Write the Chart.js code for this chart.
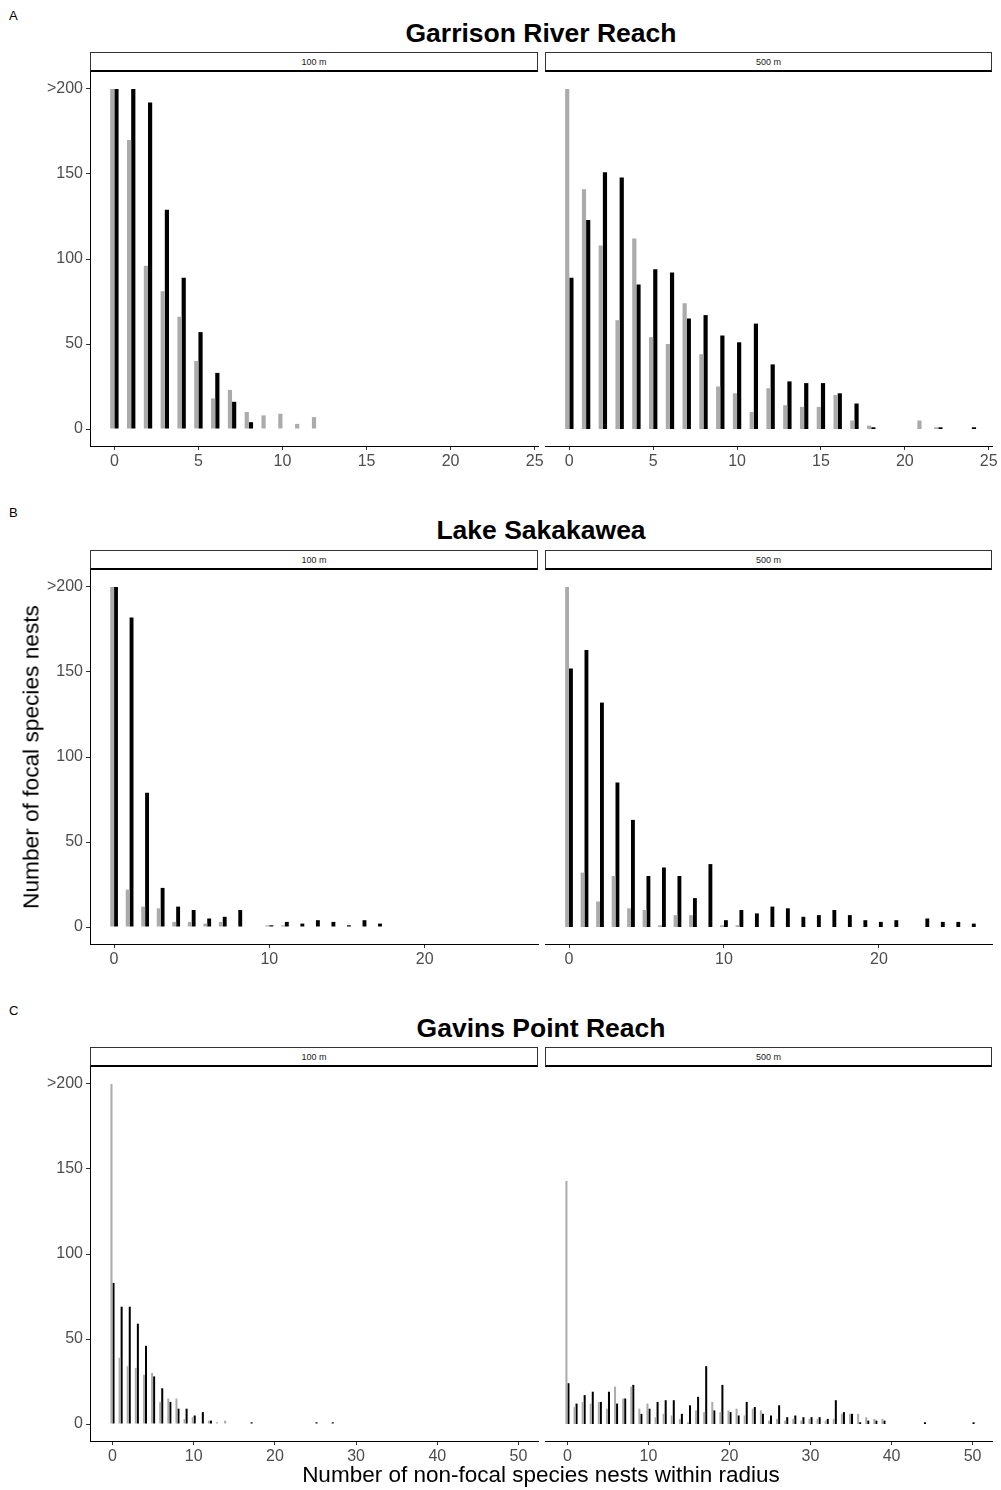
<!DOCTYPE html>
<html>
<head>
<meta charset="utf-8">
<script src="https://cdn.jsdelivr.net/npm/chart.js@4.4.0/dist/chart.umd.min.js"></script>
<style>
  body { margin: 0; background: #fff; width: 1001px; height: 1490px; position: relative; overflow: hidden;
         font-family: "Liberation Sans", Arial, sans-serif; }
  .abs { position: absolute; }
  .title { left: 90px; width: 902px; text-align: center; font-weight: bold; font-size: 26.5px; color: #000; line-height: 30px; }
  .letter { left: 9px; font-size: 13px; color: #000; line-height: 14px; }
  .strip { height: 20px; box-sizing: border-box; border: 1px solid #333; border-bottom: 2px solid #000;
           font-size: 9px; color: #1a1a1a; text-align: center; line-height: 19px; }
  canvas { position: absolute; }
</style>
</head>
<body>

<div class="abs letter" style="top:9px">A</div>
<div class="abs letter" style="top:506px">B</div>
<div class="abs letter" style="top:1004px">C</div>

<div class="abs title" style="top:18px">Garrison River Reach</div>
<div class="abs title" style="top:515px">Lake Sakakawea</div>
<div class="abs title" style="top:1013px">Gavins Point Reach</div>

<div class="abs strip" style="left:90px;width:448px;top:52px">100 m</div>
<div class="abs strip" style="left:545px;width:447px;top:52px">500 m</div>
<div class="abs strip" style="left:90px;width:448px;top:550px">100 m</div>
<div class="abs strip" style="left:545px;width:447px;top:550px">500 m</div>
<div class="abs strip" style="left:90px;width:448px;top:1047px">100 m</div>
<div class="abs strip" style="left:545px;width:447px;top:1047px">500 m</div>

<canvas id="a100"></canvas>
<canvas id="a500"></canvas>
<canvas id="b100"></canvas>
<canvas id="b500"></canvas>
<canvas id="c100"></canvas>
<canvas id="c500"></canvas>

<div class="abs" style="left:31px;top:757px;transform:translate(-50%,-50%) rotate(-90deg);white-space:nowrap;font-size:22.7px;color:#000">Number of focal species nests</div>
<div class="abs" style="left:90px;width:902px;top:1462px;text-align:center;font-size:22.5px;color:#000;line-height:26px">Number of non-focal species nests within radius</div>

<script>
// counts per number of non-focal nests (index = 0, 1, 2, ...), >200 shown as 200
const garrison100Grey  = [200, 170, 96, 81, 66, 40, 18, 23, 10, 8, 9, 3, 7];
const garrison100Black = [200, 200, 192, 129, 89, 57, 33, 16, 4, 0, 0, 0, 0];
const garrison500Grey  = [200, 141, 108, 64, 112, 54, 50, 74, 44, 25, 21, 10, 24, 14, 13, 13, 20, 5, 2, 0, 0, 5, 1, 0, 0];
const garrison500Black = [89, 123, 151, 148, 85, 94, 92, 65, 67, 55, 51, 62, 38, 28, 27, 27, 21, 15, 1, 0, 0, 0, 1, 0, 1];

const sakakawea100Grey  = [200, 22, 12, 11, 3, 3, 2, 3, 0, 0, 1, 1, 0, 0, 0, 0, 0, 0];
const sakakawea100Black = [200, 182, 79, 23, 12, 10, 5, 6, 10, 0, 1, 3, 2, 4, 3, 1, 4, 2];
const sakakawea500Grey  = [200, 32, 15, 30, 11, 10, 1, 7, 7, 0, 1, 1, 0, 0, 0, 0, 0, 0, 0, 0, 0, 0, 0, 0, 0, 0, 0];
const sakakawea500Black = [152, 163, 132, 85, 63, 30, 35, 30, 17, 37, 4, 10, 8, 12, 11, 6, 7, 10, 7, 4, 3, 4, 0, 5, 3, 3, 2];

const gavins100Grey  = [200, 39, 34, 33, 29, 30, 13, 15, 15, 3, 4, 0, 2, 1, 2, 0, 0, 0, 0, 0, 0, 0, 0, 0, 0, 0, 0, 0];
const gavins100Black = [83, 69, 69, 59, 46, 28, 21, 13, 9, 9, 5, 7, 2, 0, 0, 0, 0, 1, 0, 0, 0, 0, 0, 0, 0, 1, 0, 1];
const gavins500Grey  = [143, 10, 13, 12, 13, 9, 22, 15, 22, 9, 12, 4, 6, 5, 3, 1, 8, 7, 13, 7, 8, 9, 5, 9, 8,
                        2, 3, 2, 3, 2, 3, 3, 2, 3, 6, 6, 6, 4, 3, 3, 0, 0, 0, 0, 0, 0, 0, 0, 0, 0, 0];
const gavins500Black = [24, 12, 17, 19, 13, 19, 12, 15, 23, 6, 9, 13, 14, 14, 6, 11, 16, 34, 8, 23, 7, 5, 13, 10, 6,
                        5, 11, 4, 5, 4, 4, 4, 3, 14, 7, 6, 1, 2, 2, 2, 0, 0, 0, 0, 1, 0, 0, 0, 0, 0, 1];

const yTicks = [0, 50, 100, 150, 200];
const xTicksA = [0, 5, 10, 15, 20, 25];
const xTicksB = [0, 10, 20];
const xTicksC = [0, 10, 20, 30, 40, 50];

const FONT = '"Liberation Sans", Arial, sans-serif';

function panel(id, plotLeft, plotTop, plotWidth, xMin, xMax, xTicks, grey, black, withY) {
    const canvas = document.getElementById(id);
    const padLeft = withY ? 0 : 10;
    const yWidth = withY ? 90 : 0;
    const padTop = 14;
    const padRight = 30;
    const left = plotLeft - yWidth - padLeft;
    const width = padLeft + yWidth + plotWidth + padRight;
    const height = padTop + 374 + 32;
    canvas.width = width;
    canvas.height = height;
    canvas.style.left = left + 'px';
    canvas.style.top = (plotTop - padTop) + 'px';

    new Chart(canvas, {
        type: 'bar',
        data: {
            datasets: [
                { data: grey.map((v, i) => ({ x: i, y: v })), backgroundColor: '#ababab' },
                { data: black.map((v, i) => ({ x: i, y: v })), backgroundColor: '#000000' }
            ]
        },
        options: {
            responsive: false,
            animation: false,
            events: [],
            layout: { padding: { left: padLeft, right: padRight, top: padTop, bottom: 0 } },
            plugins: { legend: { display: false }, tooltip: { enabled: false } },
            datasets: { bar: { categoryPercentage: 0.5, barPercentage: 1 } },
            scales: {
                x: {
                    type: 'linear', min: xMin, max: xMax, offset: false,
                    afterBuildTicks: s => { s.ticks = xTicks.map(v => ({ value: v })); },
                    afterFit: s => { s.height = 32; },
                    grid: { display: true, offset: false, drawOnChartArea: false, drawTicks: true, tickLength: 4, color: '#333' },
                    border: { display: true, color: '#000', width: 1 },
                    ticks: { color: '#4d4d4d', font: { size: 16, family: FONT }, padding: 2, maxRotation: 0, autoSkip: false }
                },
                y: {
                    display: withY, min: -10, max: 210,
                    afterBuildTicks: s => { s.ticks = yTicks.map(v => ({ value: v })); },
                    afterFit: s => { s.width = yWidth; },
                    grid: { display: true, drawOnChartArea: false, drawTicks: true, tickLength: 4, color: '#333' },
                    border: { display: true, color: '#000', width: 1 },
                    ticks: {
                        color: '#4d4d4d', font: { size: 16, family: FONT }, padding: 3,
                        callback: v => v === 200 ? '>200' : v
                    }
                }
            }
        }
    });
}

panel('a100', 90, 72, 448, -1.45, 25.2, xTicksA, garrison100Grey, garrison100Black, true);
panel('a500', 545, 72, 447, -1.45, 25.2, xTicksA, garrison500Grey, garrison500Black, false);
panel('b100', 90, 570, 448, -1.55, 27.3, xTicksB, sakakawea100Grey, sakakawea100Black, true);
panel('b500', 545, 570, 447, -1.55, 27.3, xTicksB, sakakawea500Grey, sakakawea500Black, false);
panel('c100', 90, 1067, 448, -2.77, 52.4, xTicksC, gavins100Grey, gavins100Black, true);
panel('c500', 545, 1067, 447, -2.77, 52.4, xTicksC, gavins500Grey, gavins500Black, false);
</script>
</body>
</html>
